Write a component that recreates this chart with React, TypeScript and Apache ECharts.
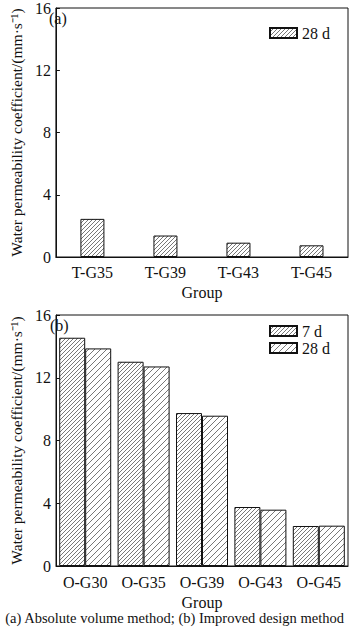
import React, { useEffect, useRef } from "react";
import * as echarts from "echarts";

const catA = ["T-G35", "T-G39", "T-G43", "T-G45"];
const valA28 = [2.45, 1.38, 0.92, 0.75];
const catB = ["O-G30", "O-G35", "O-G39", "O-G43", "O-G45"];
const valB7 = [14.55, 13.02, 9.75, 3.76, 2.55];
const valB28 = [13.87, 12.72, 9.58, 3.59, 2.57];
const yTicks = [0, 4, 8, 12, 16];

const FONT = '"Liberation Serif", "Times New Roman", serif';

function hatch(step: number) {
  const c = document.createElement("canvas");
  c.width = step;
  c.height = step;
  const ctx = c.getContext("2d")!;
  ctx.fillStyle = "#ffffff";
  ctx.fillRect(0, 0, step, step);
  ctx.strokeStyle = "#555";
  ctx.lineWidth = 0.8;
  ctx.beginPath();
  ctx.moveTo(-1, step + 1);
  ctx.lineTo(step + 1, -1);
  ctx.moveTo(-1, 1);
  ctx.lineTo(1, -1);
  ctx.moveTo(step - 1, step + 1);
  ctx.lineTo(step + 1, step - 1);
  ctx.stroke();
  return { image: c, repeat: "repeat" } as any;
}

export default function App() {
  const ref = useRef<HTMLDivElement>(null);
  useEffect(() => {
    document.body.style.margin = "0";
    const chart = echarts.init(ref.current!, null, { renderer: "svg" });
    const dense = hatch(4);
    const sparse = hatch(6);
    const axisText = { color: "#111", fontFamily: FONT, fontSize: 16 };
    const yAxisBase = (gi: number, gap: number) => ({
      type: "value",
      gridIndex: gi,
      min: 0,
      max: 16,
      interval: 4,
      axisLine: { show: true, lineStyle: { color: "#111", width: 1 } },
      axisTick: { show: true, inside: true, length: 4, lineStyle: { color: "#111" } },
      splitLine: { show: false },
      axisLabel: { ...axisText, margin: 5, formatter: (v: number) => (yTicks.includes(v) ? String(v) : "") },
      name: "Water permeability coefficient/(mm·s⁻¹)",
      nameLocation: "middle",
      nameGap: gap,
      nameTextStyle: { color: "#111", fontFamily: FONT, fontSize: 15.5 },
    });
    const xAxisBase = (gi: number, data: string[], margin: number, gap: number) => ({
      type: "category",
      gridIndex: gi,
      data,
      axisLine: { show: true, lineStyle: { color: "#111", width: 1 } },
      axisTick: { show: false },
      axisLabel: { ...axisText, margin },
      name: "Group",
      nameLocation: "middle",
      nameGap: gap,
      nameTextStyle: { color: "#111", fontFamily: FONT, fontSize: 16 },
    });
    const barStyle = (pat: any) => ({ color: pat, borderColor: "#111", borderWidth: 1 });
    chart.setOption({
      animation: false,
      backgroundColor: "#fff",
      textStyle: { fontFamily: FONT },
      grid: [
        { left: 45, top: 1, right: 2, height: 256, show: true, borderColor: "#111", borderWidth: 1, backgroundColor: "transparent" },
        { left: 46, top: 315, right: 2, height: 251, show: true, borderColor: "#111", borderWidth: 1, backgroundColor: "transparent" },
      ],
      xAxis: [xAxisBase(0, catA, 7, 27), xAxisBase(1, catB, 8, 28)],
      yAxis: [yAxisBase(0, 31), yAxisBase(1, 32)],
      legend: [
        {
          left: 264, top: 20, itemWidth: 27, itemHeight: 10, icon: "rect", itemGap: 1,
          data: ["28 d (a)"],
          formatter: () => "28 d",
          textStyle: { ...axisText },
        },
        {
          left: 264, top: 318, orient: "vertical", itemWidth: 27, itemHeight: 10, icon: "rect", itemGap: 1,
          data: ["7 d", "28 d"],
          textStyle: { ...axisText },
        },
      ],
      graphic: [
        { type: "text", left: 49, top: 10, style: { text: "(a)", font: `16px ${FONT}`, fill: "#111" } },
        { type: "text", left: 50, top: 317, style: { text: "(b)", font: `16px ${FONT}`, fill: "#111" } },
        {
          type: "text", left: "center", top: 610,
          style: { text: "(a) Absolute volume method; (b) Improved design method", font: `14.5px ${FONT}`, fill: "#111" },
        },
      ],
      series: [
        { name: "28 d (a)", type: "bar", xAxisIndex: 0, yAxisIndex: 0, data: valA28, barWidth: 24, itemStyle: barStyle(dense) },
        { name: "7 d", type: "bar", xAxisIndex: 1, yAxisIndex: 1, data: valB7, barWidth: 26, barGap: "0%", itemStyle: barStyle(dense) },
        { name: "28 d", type: "bar", xAxisIndex: 1, yAxisIndex: 1, data: valB28, barWidth: 26, barGap: "0%", itemStyle: barStyle(sparse) },
      ],
    });
    return () => chart.dispose();
  }, []);
  return <div ref={ref} style={{ width: 350, height: 629 }} />;
}
